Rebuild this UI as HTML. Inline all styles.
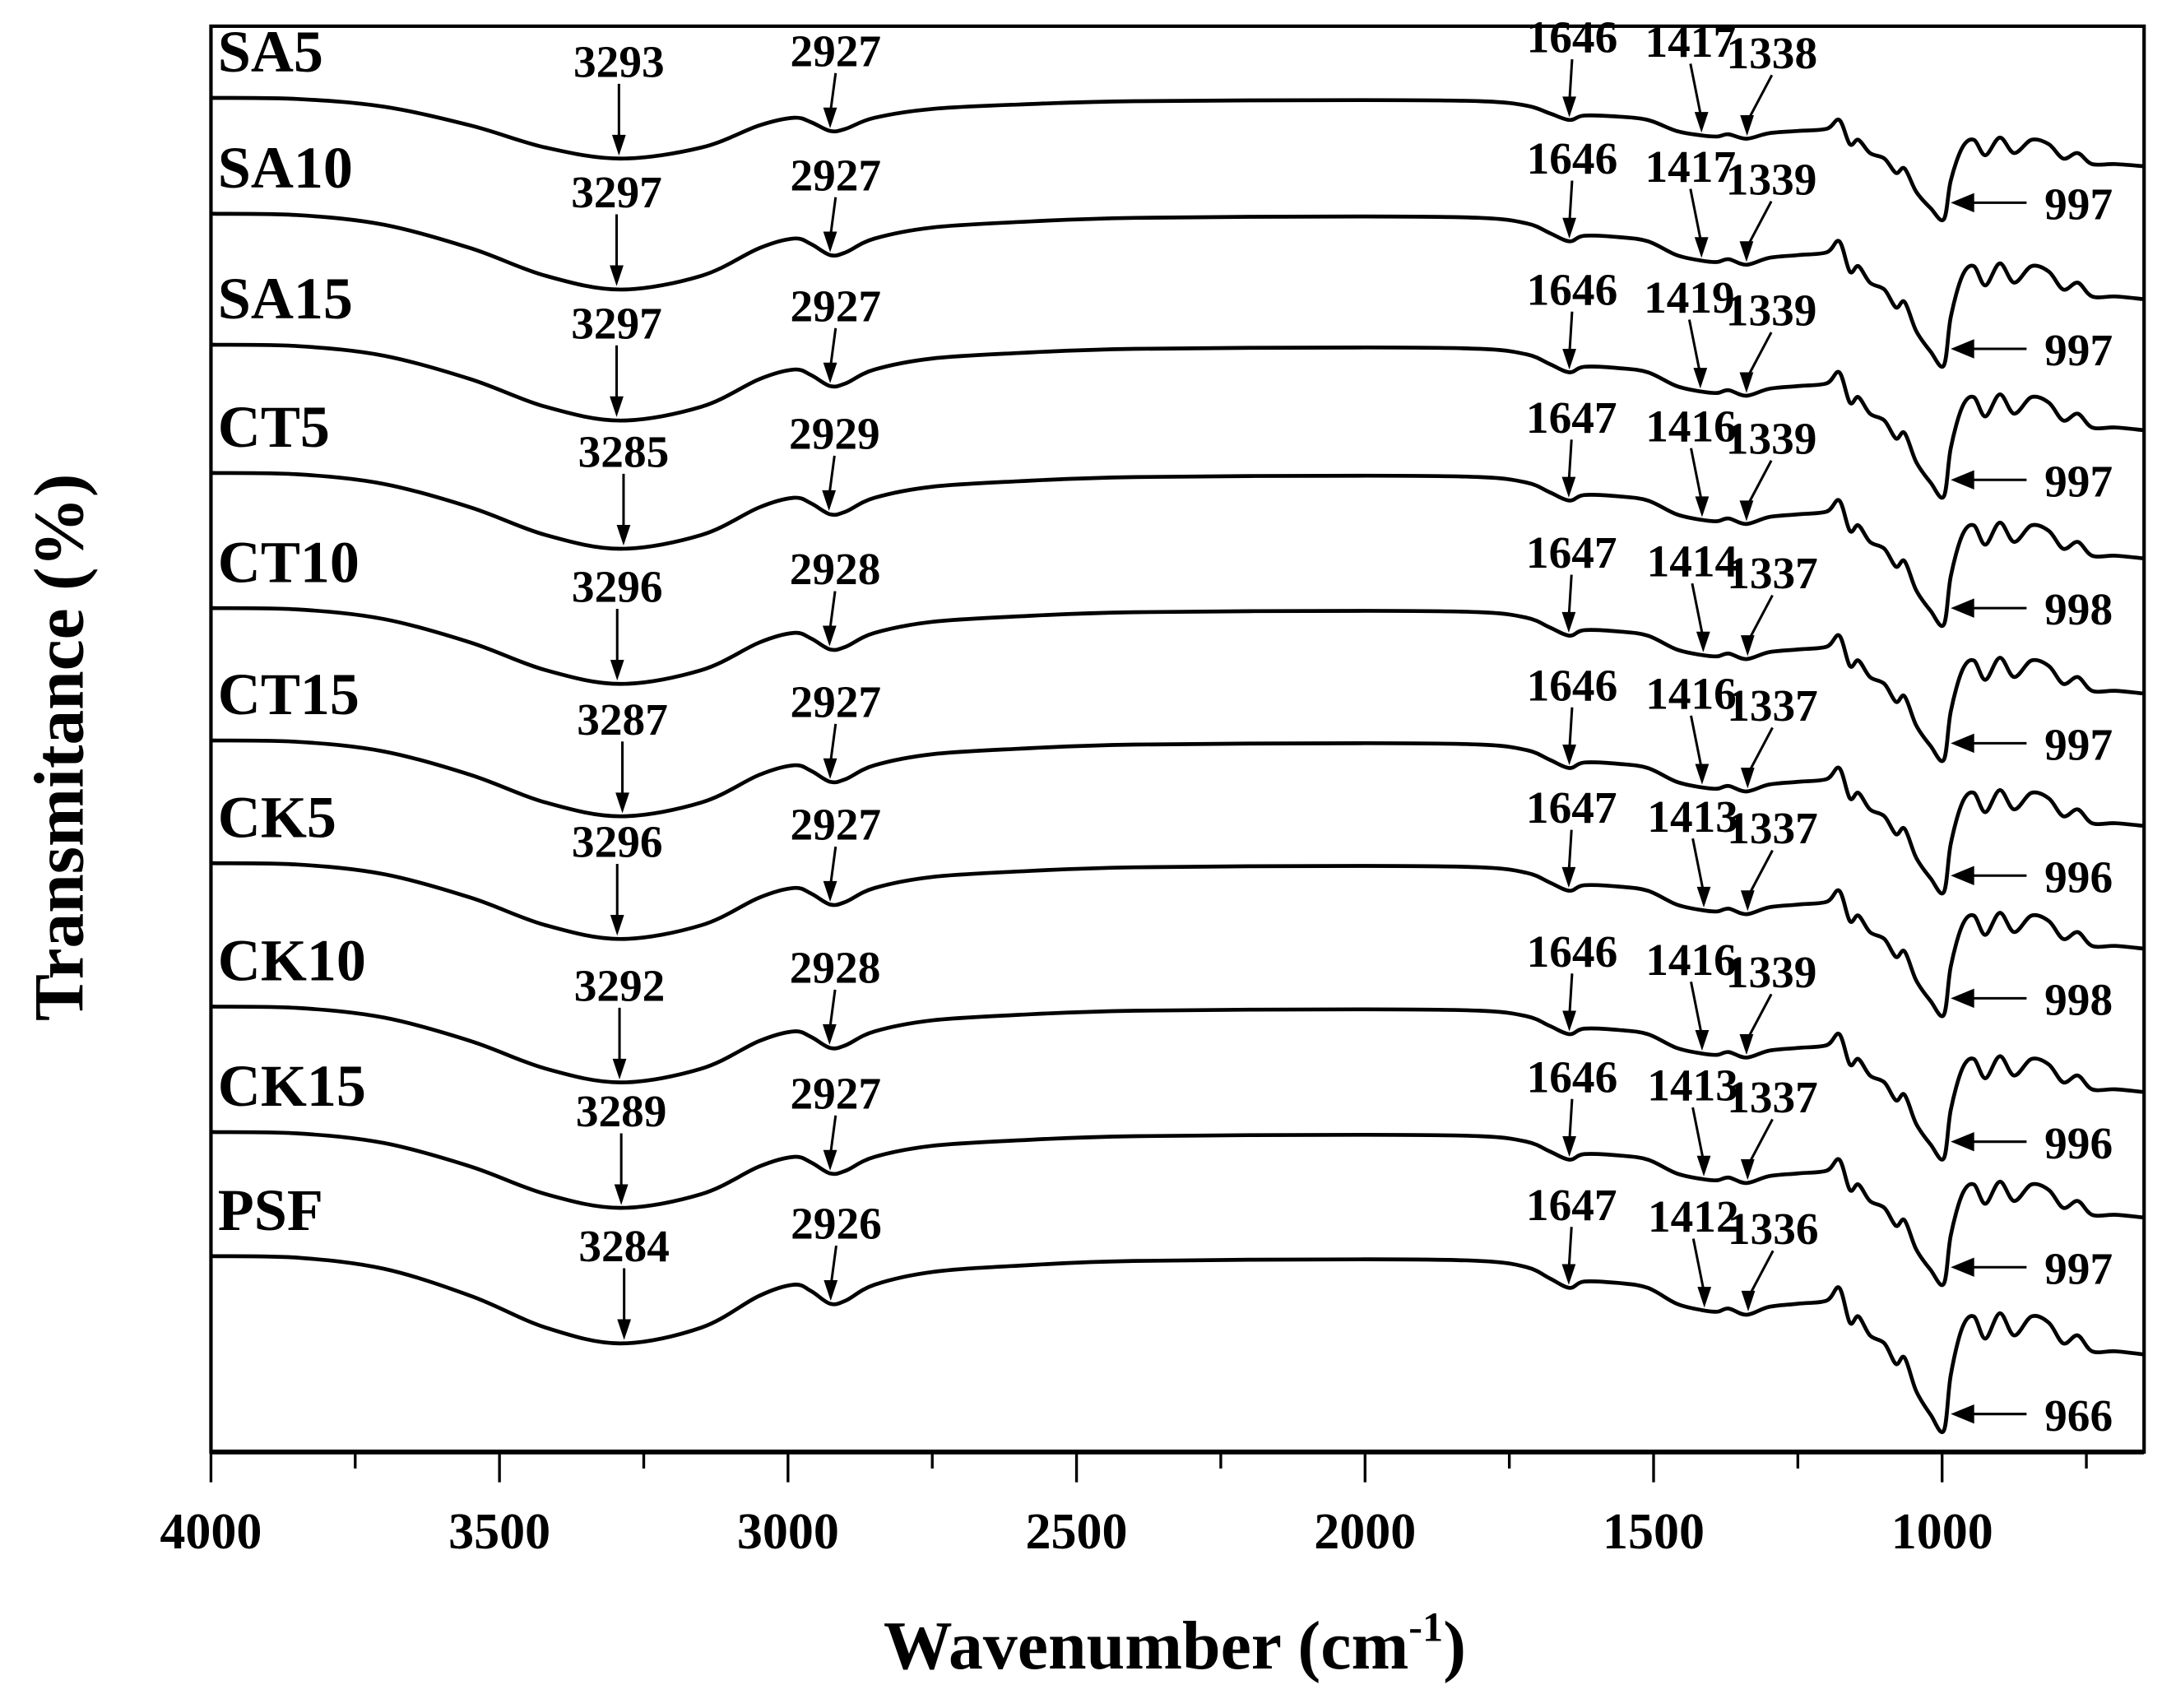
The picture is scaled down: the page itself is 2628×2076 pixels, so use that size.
<!DOCTYPE html>
<html><head><meta charset="utf-8"><style>
html,body{margin:0;padding:0;background:#fff;}
svg{display:block;}
text{font-family:"Liberation Serif",serif;font-weight:bold;fill:#000;}
</style></head><body>
<svg id="chart" width="2628" height="2076" viewBox="0 0 1568 1238.7" preserveAspectRatio="none" xmlns="http://www.w3.org/2000/svg">
<rect x="0" y="0" width="1568" height="1238.7" fill="#fff"/>
<g id="plot"></g>
<g id="axes"></g>
</svg>
<script>
const seriesNames = ["SA5","SA10","SA15","CT5","CT10","CT15","CK5","CK10","CK15","PSF"];
const seriesOffsets = [982, 898, 803, 710, 612, 516, 427, 323, 232, 142];
const seriesScales = [0.8, 1.0, 1.0, 1.0, 1.0, 1.0, 1.0, 1.0, 1.0, 1.15];
const peakOH = [3293, 3297, 3297, 3285, 3296, 3287, 3296, 3292, 3289, 3284];
const peakCH = [2927, 2927, 2927, 2929, 2928, 2927, 2927, 2928, 2927, 2926];
const peakCO = [1646, 1646, 1646, 1647, 1647, 1646, 1647, 1646, 1646, 1647];
const peak1417 = [1417, 1417, 1419, 1416, 1414, 1416, 1413, 1416, 1413, 1412];
const peak1338 = [1338, 1339, 1339, 1339, 1337, 1337, 1337, 1339, 1337, 1336];
const peak997 = [997, 997, 997, 998, 997, 996, 998, 996, 997, 966];
const profileWn = [4000,3850,3700,3550,3420,3290,3150,3050,2990,2960,2927,2900,2850,2750,2600,2400,2000,1800,1720,1680,1646,1620,1560,1510,1460,1417,1390,1370,1339,1300,1250,1200,1178,1160,1145,1125,1100,1080,1065,1045,1020,997,985,965,945,925,900,875,845,815,790,765,740,700,650];
const profileT = [0,-1,-8,-25,-45,-55,-45,-25,-18,-22,-30,-28,-18,-10,-6,-3,-2,-3,-7,-14,-20,-16,-17,-20,-30,-34,-35,-33,-37,-32,-30,-28,-20,-42,-38,-50,-55,-68,-64,-85,-100,-110,-75,-45,-38,-52,-36,-50,-38,-42,-55,-50,-60,-60,-62];
const xTicks = [4000,3500,3000,2500,2000,1500,1000];

const L=153, R=1555, T=19, B=1053;
const X0=4000, X1=650;
function xS(w){return L+(X0-w)/(X0-X1)*(R-L);}
function yS(v){return B-v;}
function prof(w){
  for(let i=0;i<profileWn.length-1;i++){
    const a=profileWn[i], b=profileWn[i+1];
    if(w<=a && w>=b){const t=(a-w)/(a-b);return profileT[i]+(profileT[i+1]-profileT[i])*t;}
  }
  return profileT[profileT.length-1];
}
const NS="http://www.w3.org/2000/svg";
function mk(tag,attrs,parent){const e=document.createElementNS(NS,tag);for(const k in attrs)e.setAttribute(k,attrs[k]);parent.appendChild(e);return e;}
const plot=document.getElementById('plot');
const axes=document.getElementById('axes');

function smoothPath(pts){
  let d='M'+pts[0][0].toFixed(1)+','+pts[0][1].toFixed(1);
  for(let i=0;i<pts.length-1;i++){
    const p0=pts[Math.max(0,i-1)],p1=pts[i],p2=pts[i+1],p3=pts[Math.min(pts.length-1,i+2)];
    const c1x=p1[0]+(p2[0]-p0[0])/6,c1y=p1[1]+(p2[1]-p0[1])/6;
    const c2x=p2[0]-(p3[0]-p1[0])/6,c2y=p2[1]-(p3[1]-p1[1])/6;
    d+=`C${c1x.toFixed(1)},${c1y.toFixed(1)} ${c2x.toFixed(1)},${c2y.toFixed(1)} ${p2[0].toFixed(1)},${p2[1].toFixed(1)}`;
  }
  return d;
}

function downArrow(g,x,tipY,len,label,dx){
  const a=mk('line',{x1:x+(dx||0),y1:tipY-len,x2:x,y2:tipY-10,stroke:'#000','stroke-width':1.8},g);
  
  
  const h=mk('polygon',{points:`${x-5},${tipY-15} ${x+5},${tipY-15} ${x},${tipY}`,fill:'#000'},g);
  
  
  const t=mk('text',{x:x+(dx||0),y:tipY-len-5,'font-size':33,'text-anchor':'middle'},g);
  t.textContent=label;
  
  
}

seriesNames.forEach((name,i)=>{
  const g=mk('g',{},plot);
  
  
  const off=seriesOffsets[i], sc=seriesScales[i];
  const yv=w=>yS(off+prof(w)*sc);
  const pts=profileWn.map(w=>[xS(w),yv(w)]);
  const p=mk('path',{d:smoothPath(pts),fill:'none',stroke:'#000','stroke-width':2.8,'stroke-linejoin':'round'},g);
  
  
  const lbl=mk('text',{x:158,y:yS(off)-19,'font-size':43},g);
  lbl.textContent=name;
  
  
  downArrow(g,xS(peakOH[i]),yv(peakOH[i])-2,52,peakOH[i],0);
  downArrow(g,xS(peakCH[i]),yv(peakCH[i])-2,40,peakCH[i],4);
  downArrow(g,xS(peakCO[i]),yv(peakCO[i])-2,42,peakCO[i],2);
  downArrow(g,xS(peak1417[i]),yv(peak1417[i])-2,50,peak1417[i],-8);
  downArrow(g,xS(peak1338[i]),yv(peak1338[i])-2,44,peak1338[i],18);
  const px=xS(997)+5, py=yv(997)-12;
  const l=mk('line',{x1:px+10,y1:py,x2:px+55,y2:py,stroke:'#000','stroke-width':1.8},g);
  
  
  const h=mk('polygon',{points:`${px},${py} ${px+17},${py-7} ${px+17},${py+7}`,fill:'#000'},g);
  
  
  const t=mk('text',{x:px+68,y:py+12,'font-size':33},g);
  t.textContent=peak997[i];
  
  
});

const fr=mk('rect',{x:L,y:T,width:R-L,height:B-T,fill:'none',stroke:'#000','stroke-width':2.5},axes);


const bl=mk('line',{x1:L,y1:B,x2:R,y2:B,stroke:'#000','stroke-width':3.5},axes);


for(let w=4000; w>=650; w-=250){
  const major=(w%500===0);
  const tk=mk('line',{x1:xS(w),y1:B,x2:xS(w),y2:B+(major?22:12),stroke:'#000','stroke-width':2},axes);
  
  
}
xTicks.forEach(w=>{
  const t=mk('text',{x:xS(w),y:1123,'font-size':37,'text-anchor':'middle'},axes);
  t.textContent=w;
  
  
});
const xt=mk('text',{x:852,y:1210,'font-size':50,'text-anchor':'middle'},axes);
xt.innerHTML='Wavenumber (cm<tspan dy="-20" font-size="30">-1</tspan><tspan dy="20">)</tspan>';


const yt=mk('text',{x:0,y:0,'font-size':51,'text-anchor':'middle',transform:'translate(60,542) rotate(-90)'},axes);
yt.textContent='Transmitance (%)';


</script>
</body></html>
